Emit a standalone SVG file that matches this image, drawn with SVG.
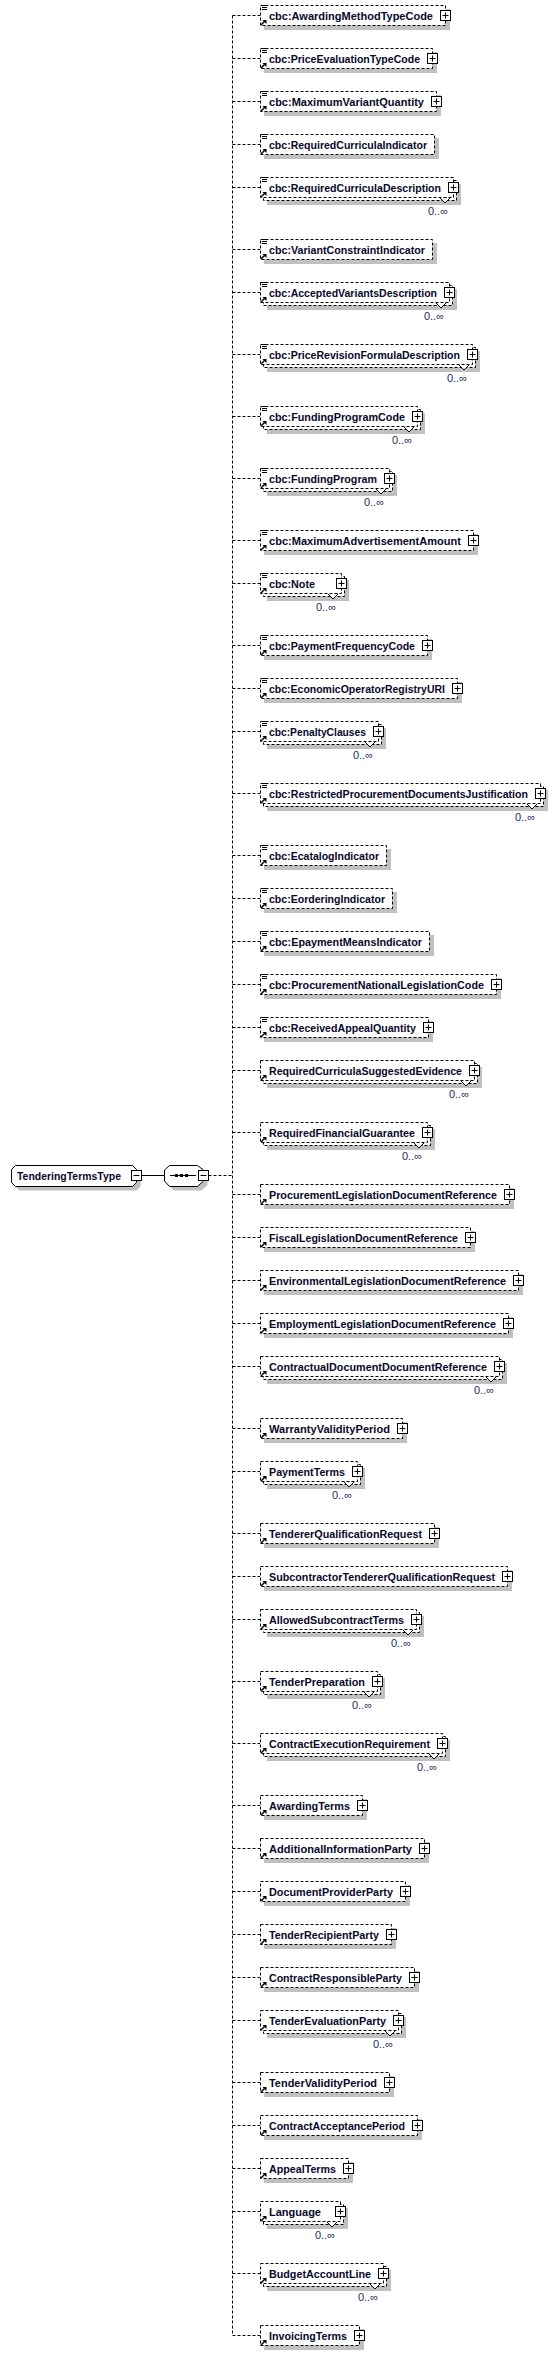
<svg xmlns="http://www.w3.org/2000/svg" width="558" height="2355" viewBox="0 0 558 2355">
<style>
.bx{fill:#fff;stroke:#000;stroke-dasharray:3 2}
.sh{fill:#c0c0c0}
.t{font-family:"Liberation Sans",Arial,sans-serif;font-size:11px;font-weight:bold;fill:#08082a}
.cd{font-family:"Liberation Sans",Arial,sans-serif;font-size:11px;fill:#1e2d5a;text-anchor:end}
.cn{fill:none;stroke:#000;stroke-dasharray:3 2}
</style>
<defs>
<g id="pl"><rect x="-5" y="-5" width="10" height="10" fill="#fff" stroke="#000"/><path d="M-3,0H3M0,-3V3" stroke="#000"/></g>
<g id="mi"><rect x="-5" y="-5" width="10" height="10" fill="#fff" stroke="#000"/><path d="M-3,0H3" stroke="#000"/></g>
<path id="eq" d="M262,-10h5M262,-8h5M262,-6h5" stroke="#000"/>
<g id="ar"><path d="M261,9.5L264.5,6" stroke="#000" stroke-width="1.5"/><path d="M262.5,4.5H266.5V8.5Z" fill="#000"/></g>
<g id="nt"><path d="M-13,10.5L-8,15.5L-3,10.5Z" fill="#fff"/><path d="M-13,10.5L-8,15.5L-3,10.5" fill="none" stroke="#000"/></g>
</defs>

<g id="connectors">
<path class="cn" d="M232.5,15.5V2335.5"/>
<path class="cn" d="M232.5,15.5H260M232.5,58.5H260M232.5,101.5H260M232.5,144.5H260M232.5,187.5H260M232.5,249.5H260M232.5,292.5H260M232.5,354.5H260M232.5,416.5H260M232.5,478.5H260M232.5,540.5H260M232.5,583.5H260M232.5,645.5H260M232.5,688.5H260M232.5,731.5H260M232.5,793.5H260M232.5,855.5H260M232.5,898.5H260M232.5,941.5H260M232.5,984.5H260M232.5,1027.5H260M232.5,1070.5H260M232.5,1132.5H260M232.5,1194.5H260M232.5,1237.5H260M232.5,1280.5H260M232.5,1323.5H260M232.5,1366.5H260M232.5,1428.5H260M232.5,1471.5H260M232.5,1533.5H260M232.5,1576.5H260M232.5,1619.5H260M232.5,1681.5H260M232.5,1743.5H260M232.5,1805.5H260M232.5,1848.5H260M232.5,1891.5H260M232.5,1934.5H260M232.5,1977.5H260M232.5,2020.5H260M232.5,2082.5H260M232.5,2125.5H260M232.5,2168.5H260M232.5,2211.5H260M232.5,2273.5H260M232.5,2335.5H260"/>
<path class="cn" d="M208.5,1175.5H232.5"/>
<path d="M141.5,1175.5H164.5" stroke="#000" fill="none"/>
</g>

<g id="TenderingTermsType">
<polygon class="sh" points="19.5,1169.5 136.5,1169.5 140.5,1173.5 140.5,1186.5 136.5,1190.5 19.5,1190.5 15.5,1186.5 15.5,1173.5"/>
<polygon points="15.5,1165.5 132.5,1165.5 136.5,1169.5 136.5,1182.5 132.5,1186.5 15.5,1186.5 11.5,1182.5 11.5,1169.5" fill="#fff" stroke="#000"/>
<text class="t" x="17" y="1180" textLength="104" lengthAdjust="spacingAndGlyphs">TenderingTermsType</text>
<use href="#mi" x="136.5" y="1175.5"/>
</g>

<g id="sequence">
<polygon class="sh" points="168.5,1174 173.5,1169.5 201.5,1169.5 207.5,1174 207.5,1185 201.5,1190.5 173.5,1190.5 168.5,1185"/>
<polygon points="164.5,1170 169.5,1165.5 197.5,1165.5 203.5,1170 203.5,1181 197.5,1186.5 169.5,1186.5 164.5,1181" fill="#fff" stroke="#000"/>
<path d="M170,1175.5H196" stroke="#000"/>
<rect x="175" y="1174" width="3" height="3"/><rect x="180" y="1174" width="3" height="3"/><rect x="185" y="1174" width="3" height="3"/>
<use href="#mi" x="203.5" y="1175.5"/>
</g>

<g id="n1" transform="translate(0,15.5)"><rect class="sh" x="264" y="-6.5" width="186" height="21"/><rect class="bx" x="260.5" y="-10" width="185" height="20"/><use href="#eq"/><use href="#ar"/><text class="t" x="269" y="4" textLength="164" lengthAdjust="spacingAndGlyphs">cbc:AwardingMethodTypeCode</text><use href="#pl" x="445.5"/></g>
<g id="n2" transform="translate(0,58.5)"><rect class="sh" x="264" y="-6.5" width="173" height="21"/><rect class="bx" x="260.5" y="-10" width="172" height="20"/><use href="#eq"/><use href="#ar"/><text class="t" x="269" y="4" textLength="151" lengthAdjust="spacingAndGlyphs">cbc:PriceEvaluationTypeCode</text><use href="#pl" x="432.5"/></g>
<g id="n3" transform="translate(0,101.5)"><rect class="sh" x="264" y="-6.5" width="177" height="21"/><rect class="bx" x="260.5" y="-10" width="176" height="20"/><use href="#eq"/><use href="#ar"/><text class="t" x="269" y="4" textLength="155" lengthAdjust="spacingAndGlyphs">cbc:MaximumVariantQuantity</text><use href="#pl" x="436.5"/></g>
<g id="n4" transform="translate(0,144.5)"><rect class="sh" x="264" y="-6.5" width="175" height="21"/><rect class="bx" x="260.5" y="-10" width="174" height="20"/><use href="#eq"/><use href="#ar"/><text class="t" x="269" y="4" textLength="158" lengthAdjust="spacingAndGlyphs">cbc:RequiredCurriculaIndicator</text></g>
<g id="n5" transform="translate(0,187.5)"><rect class="sh" x="267" y="-3.5" width="194" height="21"/><rect class="bx" x="263.5" y="-7" width="193" height="20"/><rect class="bx" x="260.5" y="-10" width="193" height="20"/><use href="#nt" x="453"/><use href="#eq"/><use href="#ar"/><text class="t" x="269" y="4" textLength="172" lengthAdjust="spacingAndGlyphs">cbc:RequiredCurriculaDescription</text><use href="#pl" x="453.5"/><text class="cd" x="448" y="27">0..∞</text></g>
<g id="n6" transform="translate(0,249.5)"><rect class="sh" x="264" y="-6.5" width="173" height="21"/><rect class="bx" x="260.5" y="-10" width="172" height="20"/><use href="#eq"/><use href="#ar"/><text class="t" x="269" y="4" textLength="156" lengthAdjust="spacingAndGlyphs">cbc:VariantConstraintIndicator</text></g>
<g id="n7" transform="translate(0,292.5)"><rect class="sh" x="267" y="-3.5" width="190" height="21"/><rect class="bx" x="263.5" y="-7" width="189" height="20"/><rect class="bx" x="260.5" y="-10" width="189" height="20"/><use href="#nt" x="449"/><use href="#eq"/><use href="#ar"/><text class="t" x="269" y="4" textLength="168" lengthAdjust="spacingAndGlyphs">cbc:AcceptedVariantsDescription</text><use href="#pl" x="449.5"/><text class="cd" x="444" y="27">0..∞</text></g>
<g id="n8" transform="translate(0,354.5)"><rect class="sh" x="267" y="-3.5" width="213" height="21"/><rect class="bx" x="263.5" y="-7" width="212" height="20"/><rect class="bx" x="260.5" y="-10" width="212" height="20"/><use href="#nt" x="472"/><use href="#eq"/><use href="#ar"/><text class="t" x="269" y="4" textLength="191" lengthAdjust="spacingAndGlyphs">cbc:PriceRevisionFormulaDescription</text><use href="#pl" x="472.5"/><text class="cd" x="467" y="27">0..∞</text></g>
<g id="n9" transform="translate(0,416.5)"><rect class="sh" x="267" y="-3.5" width="158" height="21"/><rect class="bx" x="263.5" y="-7" width="157" height="20"/><rect class="bx" x="260.5" y="-10" width="157" height="20"/><use href="#nt" x="417"/><use href="#eq"/><use href="#ar"/><text class="t" x="269" y="4" textLength="136" lengthAdjust="spacingAndGlyphs">cbc:FundingProgramCode</text><use href="#pl" x="417.5"/><text class="cd" x="412" y="27">0..∞</text></g>
<g id="n10" transform="translate(0,478.5)"><rect class="sh" x="267" y="-3.5" width="130" height="21"/><rect class="bx" x="263.5" y="-7" width="129" height="20"/><rect class="bx" x="260.5" y="-10" width="129" height="20"/><use href="#nt" x="389"/><use href="#eq"/><use href="#ar"/><text class="t" x="269" y="4" textLength="108" lengthAdjust="spacingAndGlyphs">cbc:FundingProgram</text><use href="#pl" x="389.5"/><text class="cd" x="384" y="27">0..∞</text></g>
<g id="n11" transform="translate(0,540.5)"><rect class="sh" x="264" y="-6.5" width="214" height="21"/><rect class="bx" x="260.5" y="-10" width="213" height="20"/><use href="#eq"/><use href="#ar"/><text class="t" x="269" y="4" textLength="192" lengthAdjust="spacingAndGlyphs">cbc:MaximumAdvertisementAmount</text><use href="#pl" x="473.5"/></g>
<g id="n12" transform="translate(0,583.5)"><rect class="sh" x="267" y="-3.5" width="82" height="21"/><rect class="bx" x="263.5" y="-7" width="81" height="20"/><rect class="bx" x="260.5" y="-10" width="81" height="20"/><use href="#nt" x="341"/><use href="#eq"/><use href="#ar"/><text class="t" x="269" y="4" textLength="46" lengthAdjust="spacingAndGlyphs">cbc:Note</text><use href="#pl" x="341.5"/><text class="cd" x="336" y="27">0..∞</text></g>
<g id="n13" transform="translate(0,645.5)"><rect class="sh" x="264" y="-6.5" width="168" height="21"/><rect class="bx" x="260.5" y="-10" width="167" height="20"/><use href="#eq"/><use href="#ar"/><text class="t" x="269" y="4" textLength="146" lengthAdjust="spacingAndGlyphs">cbc:PaymentFrequencyCode</text><use href="#pl" x="427.5"/></g>
<g id="n14" transform="translate(0,688.5)"><rect class="sh" x="264" y="-6.5" width="198" height="21"/><rect class="bx" x="260.5" y="-10" width="197" height="20"/><use href="#eq"/><use href="#ar"/><text class="t" x="269" y="4" textLength="176" lengthAdjust="spacingAndGlyphs">cbc:EconomicOperatorRegistryURI</text><use href="#pl" x="457.5"/></g>
<g id="n15" transform="translate(0,731.5)"><rect class="sh" x="267" y="-3.5" width="119" height="21"/><rect class="bx" x="263.5" y="-7" width="118" height="20"/><rect class="bx" x="260.5" y="-10" width="118" height="20"/><use href="#nt" x="378"/><use href="#eq"/><use href="#ar"/><text class="t" x="269" y="4" textLength="97" lengthAdjust="spacingAndGlyphs">cbc:PenaltyClauses</text><use href="#pl" x="378.5"/><text class="cd" x="373" y="27">0..∞</text></g>
<g id="n16" transform="translate(0,793.5)"><rect class="sh" x="267" y="-3.5" width="281" height="21"/><rect class="bx" x="263.5" y="-7" width="280" height="20"/><rect class="bx" x="260.5" y="-10" width="280" height="20"/><use href="#nt" x="540"/><use href="#eq"/><use href="#ar"/><text class="t" x="269" y="4" textLength="259" lengthAdjust="spacingAndGlyphs">cbc:RestrictedProcurementDocumentsJustification</text><use href="#pl" x="540.5"/><text class="cd" x="535" y="27">0..∞</text></g>
<g id="n17" transform="translate(0,855.5)"><rect class="sh" x="264" y="-6.5" width="127" height="21"/><rect class="bx" x="260.5" y="-10" width="126" height="20"/><use href="#eq"/><use href="#ar"/><text class="t" x="269" y="4" textLength="110" lengthAdjust="spacingAndGlyphs">cbc:EcatalogIndicator</text></g>
<g id="n18" transform="translate(0,898.5)"><rect class="sh" x="264" y="-6.5" width="133" height="21"/><rect class="bx" x="260.5" y="-10" width="132" height="20"/><use href="#eq"/><use href="#ar"/><text class="t" x="269" y="4" textLength="116" lengthAdjust="spacingAndGlyphs">cbc:EorderingIndicator</text></g>
<g id="n19" transform="translate(0,941.5)"><rect class="sh" x="264" y="-6.5" width="170" height="21"/><rect class="bx" x="260.5" y="-10" width="169" height="20"/><use href="#eq"/><use href="#ar"/><text class="t" x="269" y="4" textLength="153" lengthAdjust="spacingAndGlyphs">cbc:EpaymentMeansIndicator</text></g>
<g id="n20" transform="translate(0,984.5)"><rect class="sh" x="264" y="-6.5" width="237" height="21"/><rect class="bx" x="260.5" y="-10" width="236" height="20"/><use href="#eq"/><use href="#ar"/><text class="t" x="269" y="4" textLength="215" lengthAdjust="spacingAndGlyphs">cbc:ProcurementNationalLegislationCode</text><use href="#pl" x="496.5"/></g>
<g id="n21" transform="translate(0,1027.5)"><rect class="sh" x="264" y="-6.5" width="169" height="21"/><rect class="bx" x="260.5" y="-10" width="168" height="20"/><use href="#eq"/><use href="#ar"/><text class="t" x="269" y="4" textLength="147" lengthAdjust="spacingAndGlyphs">cbc:ReceivedAppealQuantity</text><use href="#pl" x="428.5"/></g>
<g id="n22" transform="translate(0,1070.5)"><rect class="sh" x="267" y="-3.5" width="215" height="21"/><rect class="bx" x="263.5" y="-7" width="214" height="20"/><rect class="bx" x="260.5" y="-10" width="214" height="20"/><use href="#nt" x="474"/><use href="#ar"/><text class="t" x="269" y="4" textLength="193" lengthAdjust="spacingAndGlyphs">RequiredCurriculaSuggestedEvidence</text><use href="#pl" x="474.5"/><text class="cd" x="469" y="27">0..∞</text></g>
<g id="n23" transform="translate(0,1132.5)"><rect class="sh" x="267" y="-3.5" width="168" height="21"/><rect class="bx" x="263.5" y="-7" width="167" height="20"/><rect class="bx" x="260.5" y="-10" width="167" height="20"/><use href="#nt" x="427"/><use href="#ar"/><text class="t" x="269" y="4" textLength="146" lengthAdjust="spacingAndGlyphs">RequiredFinancialGuarantee</text><use href="#pl" x="427.5"/><text class="cd" x="422" y="27">0..∞</text></g>
<g id="n24" transform="translate(0,1194.5)"><rect class="sh" x="264" y="-6.5" width="250" height="21"/><rect class="bx" x="260.5" y="-10" width="249" height="20"/><use href="#ar"/><text class="t" x="269" y="4" textLength="228" lengthAdjust="spacingAndGlyphs">ProcurementLegislationDocumentReference</text><use href="#pl" x="509.5"/></g>
<g id="n25" transform="translate(0,1237.5)"><rect class="sh" x="264" y="-6.5" width="211" height="21"/><rect class="bx" x="260.5" y="-10" width="210" height="20"/><use href="#ar"/><text class="t" x="269" y="4" textLength="189" lengthAdjust="spacingAndGlyphs">FiscalLegislationDocumentReference</text><use href="#pl" x="470.5"/></g>
<g id="n26" transform="translate(0,1280.5)"><rect class="sh" x="264" y="-6.5" width="259" height="21"/><rect class="bx" x="260.5" y="-10" width="258" height="20"/><use href="#ar"/><text class="t" x="269" y="4" textLength="237" lengthAdjust="spacingAndGlyphs">EnvironmentalLegislationDocumentReference</text><use href="#pl" x="518.5"/></g>
<g id="n27" transform="translate(0,1323.5)"><rect class="sh" x="264" y="-6.5" width="249" height="21"/><rect class="bx" x="260.5" y="-10" width="248" height="20"/><use href="#ar"/><text class="t" x="269" y="4" textLength="227" lengthAdjust="spacingAndGlyphs">EmploymentLegislationDocumentReference</text><use href="#pl" x="508.5"/></g>
<g id="n28" transform="translate(0,1366.5)"><rect class="sh" x="267" y="-3.5" width="240" height="21"/><rect class="bx" x="263.5" y="-7" width="239" height="20"/><rect class="bx" x="260.5" y="-10" width="239" height="20"/><use href="#nt" x="499"/><use href="#ar"/><text class="t" x="269" y="4" textLength="218" lengthAdjust="spacingAndGlyphs">ContractualDocumentDocumentReference</text><use href="#pl" x="499.5"/><text class="cd" x="494" y="27">0..∞</text></g>
<g id="n29" transform="translate(0,1428.5)"><rect class="sh" x="264" y="-6.5" width="143" height="21"/><rect class="bx" x="260.5" y="-10" width="142" height="20"/><use href="#ar"/><text class="t" x="269" y="4" textLength="121" lengthAdjust="spacingAndGlyphs">WarrantyValidityPeriod</text><use href="#pl" x="402.5"/></g>
<g id="n30" transform="translate(0,1471.5)"><rect class="sh" x="267" y="-3.5" width="98" height="21"/><rect class="bx" x="263.5" y="-7" width="97" height="20"/><rect class="bx" x="260.5" y="-10" width="97" height="20"/><use href="#nt" x="357"/><use href="#ar"/><text class="t" x="269" y="4" textLength="76" lengthAdjust="spacingAndGlyphs">PaymentTerms</text><use href="#pl" x="357.5"/><text class="cd" x="352" y="27">0..∞</text></g>
<g id="n31" transform="translate(0,1533.5)"><rect class="sh" x="264" y="-6.5" width="175" height="21"/><rect class="bx" x="260.5" y="-10" width="174" height="20"/><use href="#ar"/><text class="t" x="269" y="4" textLength="153" lengthAdjust="spacingAndGlyphs">TendererQualificationRequest</text><use href="#pl" x="434.5"/></g>
<g id="n32" transform="translate(0,1576.5)"><rect class="sh" x="264" y="-6.5" width="248" height="21"/><rect class="bx" x="260.5" y="-10" width="247" height="20"/><use href="#ar"/><text class="t" x="269" y="4" textLength="226" lengthAdjust="spacingAndGlyphs">SubcontractorTendererQualificationRequest</text><use href="#pl" x="507.5"/></g>
<g id="n33" transform="translate(0,1619.5)"><rect class="sh" x="267" y="-3.5" width="157" height="21"/><rect class="bx" x="263.5" y="-7" width="156" height="20"/><rect class="bx" x="260.5" y="-10" width="156" height="20"/><use href="#nt" x="416"/><use href="#ar"/><text class="t" x="269" y="4" textLength="135" lengthAdjust="spacingAndGlyphs">AllowedSubcontractTerms</text><use href="#pl" x="416.5"/><text class="cd" x="411" y="27">0..∞</text></g>
<g id="n34" transform="translate(0,1681.5)"><rect class="sh" x="267" y="-3.5" width="118" height="21"/><rect class="bx" x="263.5" y="-7" width="117" height="20"/><rect class="bx" x="260.5" y="-10" width="117" height="20"/><use href="#nt" x="377"/><use href="#ar"/><text class="t" x="269" y="4" textLength="96" lengthAdjust="spacingAndGlyphs">TenderPreparation</text><use href="#pl" x="377.5"/><text class="cd" x="372" y="27">0..∞</text></g>
<g id="n35" transform="translate(0,1743.5)"><rect class="sh" x="267" y="-3.5" width="183" height="21"/><rect class="bx" x="263.5" y="-7" width="182" height="20"/><rect class="bx" x="260.5" y="-10" width="182" height="20"/><use href="#nt" x="442"/><use href="#ar"/><text class="t" x="269" y="4" textLength="161" lengthAdjust="spacingAndGlyphs">ContractExecutionRequirement</text><use href="#pl" x="442.5"/><text class="cd" x="437" y="27">0..∞</text></g>
<g id="n36" transform="translate(0,1805.5)"><rect class="sh" x="264" y="-6.5" width="103" height="21"/><rect class="bx" x="260.5" y="-10" width="102" height="20"/><use href="#ar"/><text class="t" x="269" y="4" textLength="81" lengthAdjust="spacingAndGlyphs">AwardingTerms</text><use href="#pl" x="362.5"/></g>
<g id="n37" transform="translate(0,1848.5)"><rect class="sh" x="264" y="-6.5" width="165" height="21"/><rect class="bx" x="260.5" y="-10" width="164" height="20"/><use href="#ar"/><text class="t" x="269" y="4" textLength="143" lengthAdjust="spacingAndGlyphs">AdditionalInformationParty</text><use href="#pl" x="424.5"/></g>
<g id="n38" transform="translate(0,1891.5)"><rect class="sh" x="264" y="-6.5" width="146" height="21"/><rect class="bx" x="260.5" y="-10" width="145" height="20"/><use href="#ar"/><text class="t" x="269" y="4" textLength="124" lengthAdjust="spacingAndGlyphs">DocumentProviderParty</text><use href="#pl" x="405.5"/></g>
<g id="n39" transform="translate(0,1934.5)"><rect class="sh" x="264" y="-6.5" width="132" height="21"/><rect class="bx" x="260.5" y="-10" width="131" height="20"/><use href="#ar"/><text class="t" x="269" y="4" textLength="110" lengthAdjust="spacingAndGlyphs">TenderRecipientParty</text><use href="#pl" x="391.5"/></g>
<g id="n40" transform="translate(0,1977.5)"><rect class="sh" x="264" y="-6.5" width="155" height="21"/><rect class="bx" x="260.5" y="-10" width="154" height="20"/><use href="#ar"/><text class="t" x="269" y="4" textLength="133" lengthAdjust="spacingAndGlyphs">ContractResponsibleParty</text><use href="#pl" x="414.5"/></g>
<g id="n41" transform="translate(0,2020.5)"><rect class="sh" x="267" y="-3.5" width="139" height="21"/><rect class="bx" x="263.5" y="-7" width="138" height="20"/><rect class="bx" x="260.5" y="-10" width="138" height="20"/><use href="#nt" x="398"/><use href="#ar"/><text class="t" x="269" y="4" textLength="117" lengthAdjust="spacingAndGlyphs">TenderEvaluationParty</text><use href="#pl" x="398.5"/><text class="cd" x="393" y="27">0..∞</text></g>
<g id="n42" transform="translate(0,2082.5)"><rect class="sh" x="264" y="-6.5" width="130" height="21"/><rect class="bx" x="260.5" y="-10" width="129" height="20"/><use href="#ar"/><text class="t" x="269" y="4" textLength="108" lengthAdjust="spacingAndGlyphs">TenderValidityPeriod</text><use href="#pl" x="389.5"/></g>
<g id="n43" transform="translate(0,2125.5)"><rect class="sh" x="264" y="-6.5" width="158" height="21"/><rect class="bx" x="260.5" y="-10" width="157" height="20"/><use href="#ar"/><text class="t" x="269" y="4" textLength="136" lengthAdjust="spacingAndGlyphs">ContractAcceptancePeriod</text><use href="#pl" x="417.5"/></g>
<g id="n44" transform="translate(0,2168.5)"><rect class="sh" x="264" y="-6.5" width="89" height="21"/><rect class="bx" x="260.5" y="-10" width="88" height="20"/><use href="#ar"/><text class="t" x="269" y="4" textLength="67" lengthAdjust="spacingAndGlyphs">AppealTerms</text><use href="#pl" x="348.5"/></g>
<g id="n45" transform="translate(0,2211.5)"><rect class="sh" x="267" y="-3.5" width="81" height="21"/><rect class="bx" x="263.5" y="-7" width="80" height="20"/><rect class="bx" x="260.5" y="-10" width="80" height="20"/><use href="#nt" x="340"/><use href="#ar"/><text class="t" x="269" y="4" textLength="52" lengthAdjust="spacingAndGlyphs">Language</text><use href="#pl" x="340.5"/><text class="cd" x="335" y="27">0..∞</text></g>
<g id="n46" transform="translate(0,2273.5)"><rect class="sh" x="267" y="-3.5" width="124" height="21"/><rect class="bx" x="263.5" y="-7" width="123" height="20"/><rect class="bx" x="260.5" y="-10" width="123" height="20"/><use href="#nt" x="383"/><use href="#ar"/><text class="t" x="269" y="4" textLength="102" lengthAdjust="spacingAndGlyphs">BudgetAccountLine</text><use href="#pl" x="383.5"/><text class="cd" x="378" y="27">0..∞</text></g>
<g id="n47" transform="translate(0,2335.5)"><rect class="sh" x="264" y="-6.5" width="100" height="21"/><rect class="bx" x="260.5" y="-10" width="99" height="20"/><use href="#ar"/><text class="t" x="269" y="4" textLength="78" lengthAdjust="spacingAndGlyphs">InvoicingTerms</text><use href="#pl" x="359.5"/></g>
</svg>
